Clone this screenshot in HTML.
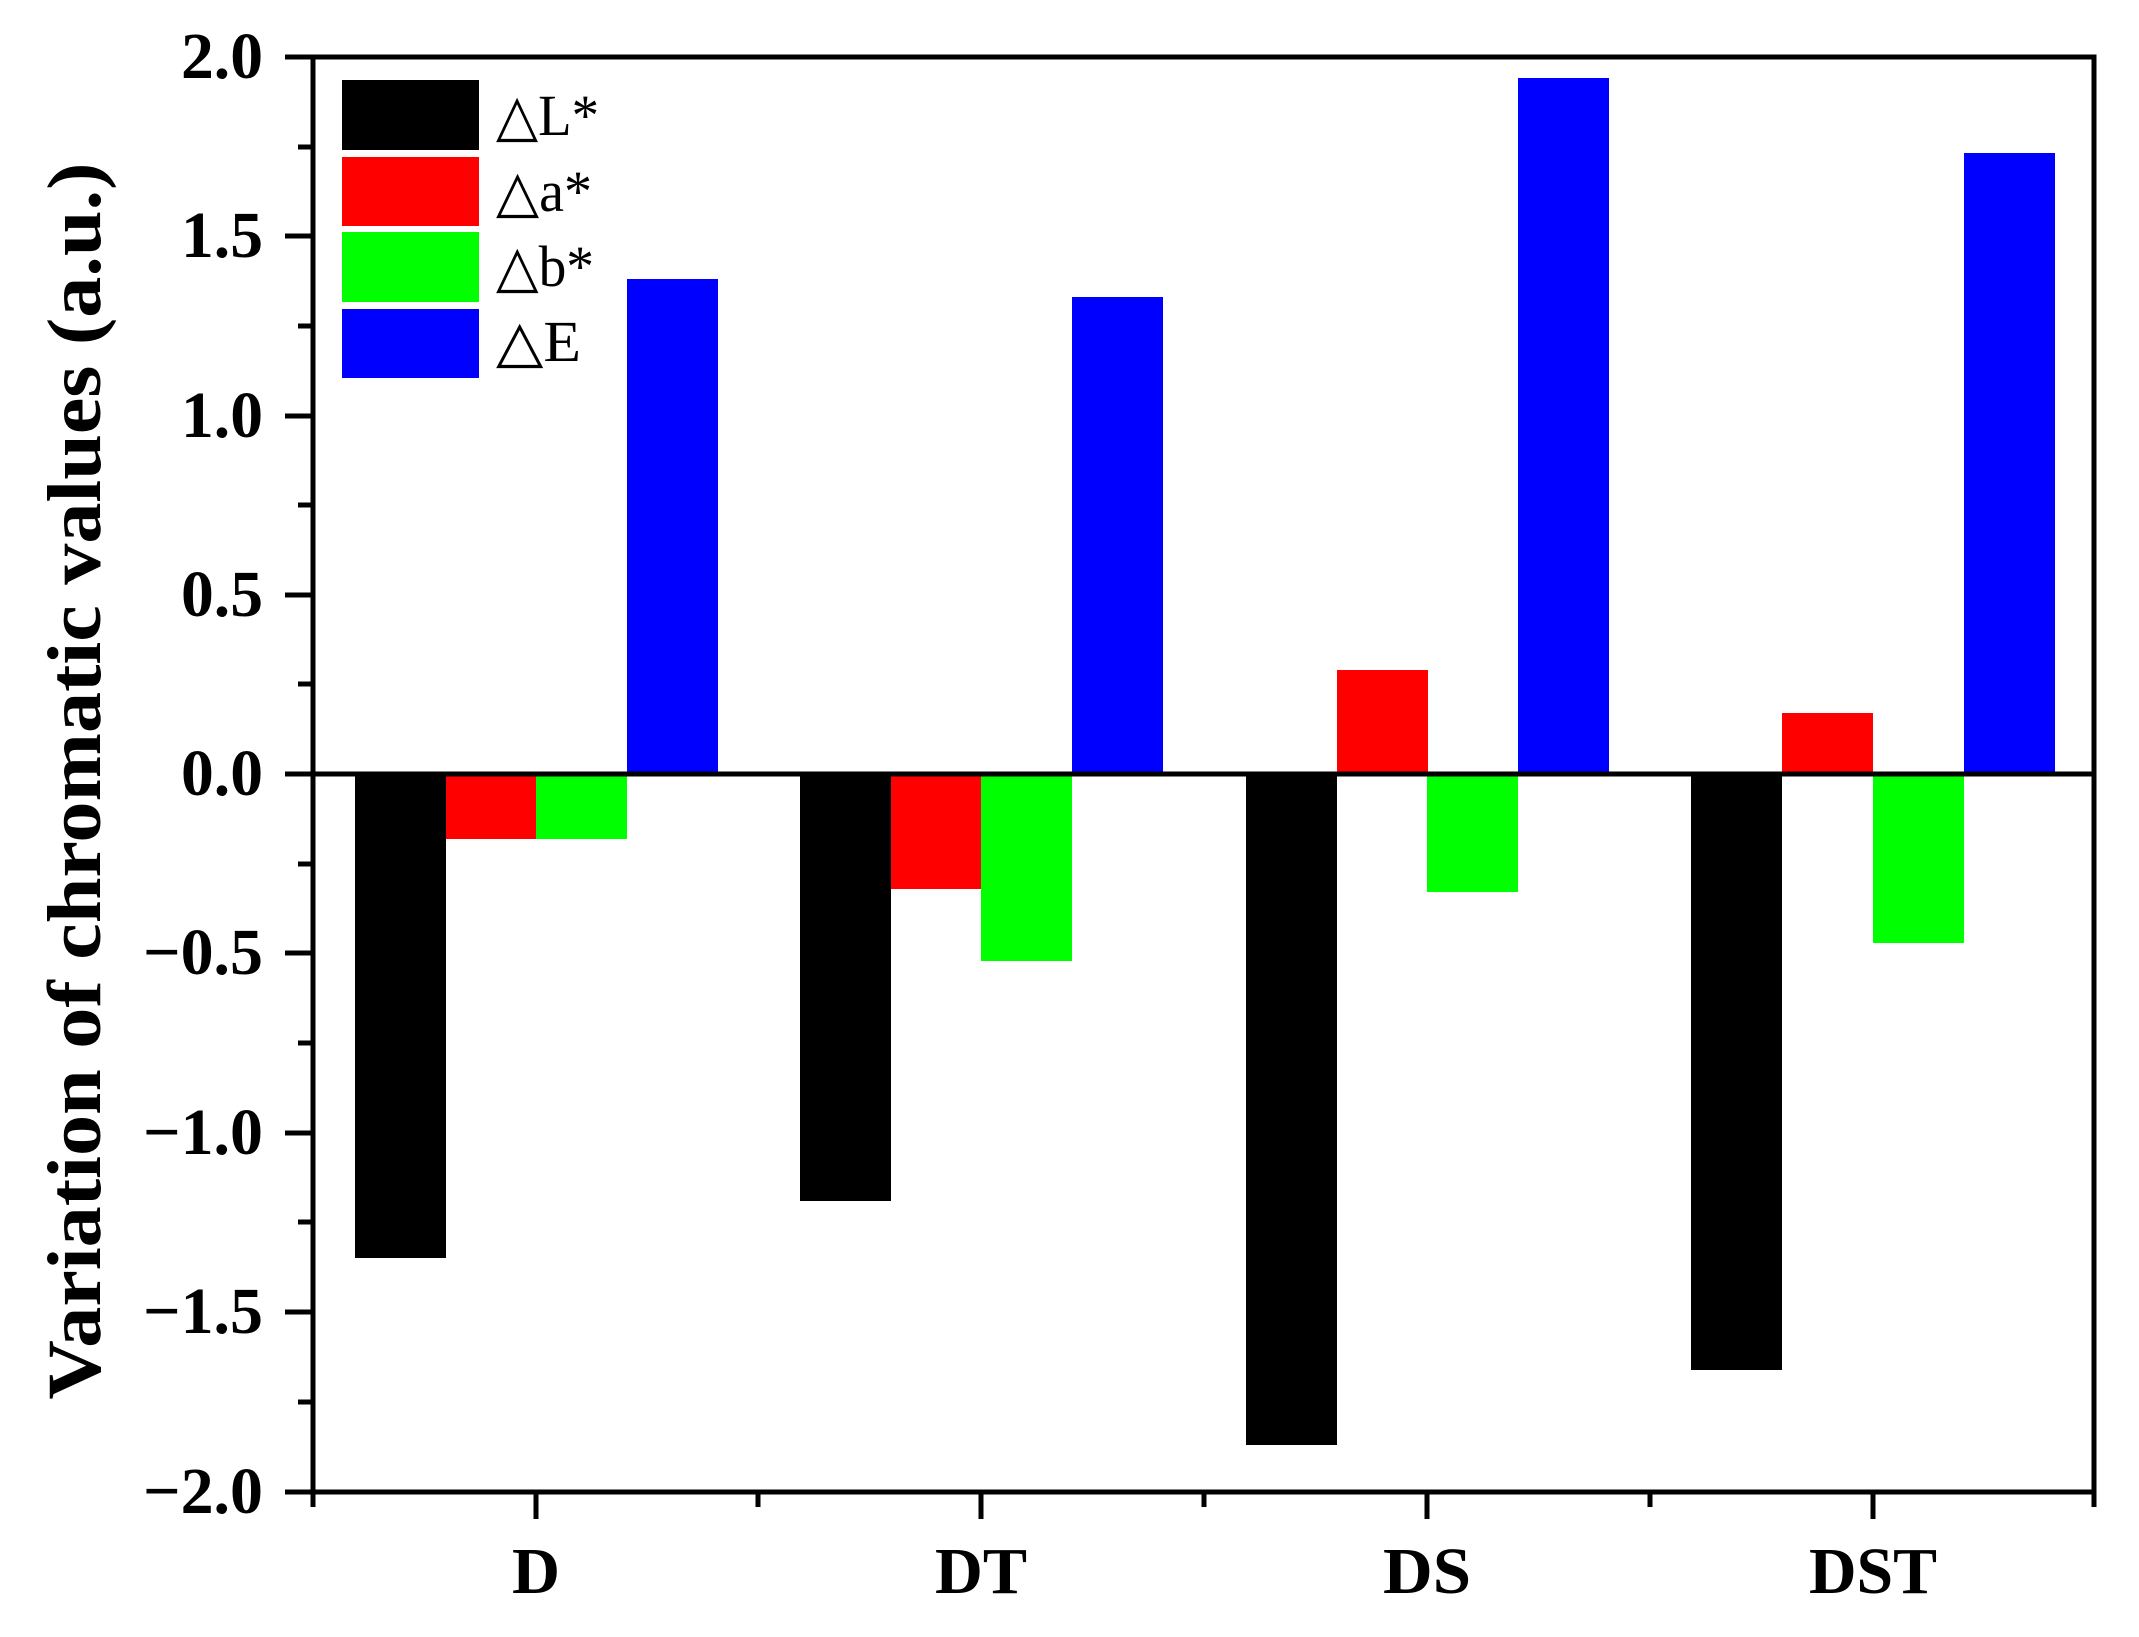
<!DOCTYPE html>
<html><head><meta charset="utf-8"><style>html,body{margin:0;padding:0;background:#fff}svg{display:block}svg text{font-family:"Liberation Serif","Times New Roman",serif}</style></head>
<body>
<svg width="2139" height="1637" viewBox="0 0 2139 1637" xmlns="http://www.w3.org/2000/svg">
<rect width="2139" height="1637" fill="#fff"/>
<g>
<rect x="355" y="774" width="91" height="484" fill="#000"/>
<rect x="446" y="774" width="91" height="65" fill="#f00"/>
<rect x="536" y="774" width="91" height="65" fill="#0f0"/>
<rect x="627" y="279" width="91" height="495" fill="#00f"/>
<rect x="800" y="774" width="91" height="427" fill="#000"/>
<rect x="891" y="774" width="91" height="115" fill="#f00"/>
<rect x="981" y="774" width="91" height="187" fill="#0f0"/>
<rect x="1072" y="297" width="91" height="477" fill="#00f"/>
<rect x="1246" y="774" width="91" height="671" fill="#000"/>
<rect x="1337" y="670" width="91" height="104" fill="#f00"/>
<rect x="1427" y="774" width="91" height="118" fill="#0f0"/>
<rect x="1518" y="78" width="91" height="696" fill="#00f"/>
<rect x="1691" y="774" width="91" height="596" fill="#000"/>
<rect x="1782" y="713" width="91" height="61" fill="#f00"/>
<rect x="1873" y="774" width="91" height="169" fill="#0f0"/>
<rect x="1964" y="153" width="91" height="621" fill="#00f"/>
</g>
<line x1="313" y1="774" x2="2094" y2="774" stroke="#000" stroke-width="5"/>
<rect x="313" y="57" width="1781" height="1435" fill="none" stroke="#000" stroke-width="5"/>
<g stroke="#000" stroke-width="5">
<line x1="285" y1="57" x2="313" y2="57"/><line x1="298" y1="147" x2="313" y2="147"/>
<line x1="285" y1="236" x2="313" y2="236"/><line x1="298" y1="326" x2="313" y2="326"/>
<line x1="285" y1="416" x2="313" y2="416"/><line x1="298" y1="505" x2="313" y2="505"/>
<line x1="285" y1="595" x2="313" y2="595"/><line x1="298" y1="684" x2="313" y2="684"/>
<line x1="285" y1="774" x2="313" y2="774"/><line x1="298" y1="864" x2="313" y2="864"/>
<line x1="285" y1="953" x2="313" y2="953"/><line x1="298" y1="1043" x2="313" y2="1043"/>
<line x1="285" y1="1133" x2="313" y2="1133"/><line x1="298" y1="1222" x2="313" y2="1222"/>
<line x1="285" y1="1312" x2="313" y2="1312"/><line x1="298" y1="1402" x2="313" y2="1402"/>
<line x1="285" y1="1492" x2="313" y2="1492"/>
<line x1="313" y1="1492" x2="313" y2="1507"/>
<line x1="536" y1="1492" x2="536" y2="1519"/><line x1="758" y1="1492" x2="758" y2="1507"/>
<line x1="981" y1="1492" x2="981" y2="1519"/><line x1="1204" y1="1492" x2="1204" y2="1507"/>
<line x1="1427" y1="1492" x2="1427" y2="1519"/><line x1="1650" y1="1492" x2="1650" y2="1507"/>
<line x1="1873" y1="1492" x2="1873" y2="1519"/><line x1="2094" y1="1492" x2="2094" y2="1507"/>
</g>
<g font-size="66" font-weight="bold" fill="#000" lengthAdjust="spacingAndGlyphs">
<text x="181" y="78" textLength="82" lengthAdjust="spacingAndGlyphs">2.0</text>
<text x="181" y="257" textLength="82" lengthAdjust="spacingAndGlyphs">1.5</text>
<text x="181" y="437" textLength="82" lengthAdjust="spacingAndGlyphs">1.0</text>
<text x="181" y="616" textLength="82" lengthAdjust="spacingAndGlyphs">0.5</text>
<text x="181" y="795" textLength="82" lengthAdjust="spacingAndGlyphs">0.0</text>
<text x="143" y="974" textLength="120" lengthAdjust="spacingAndGlyphs">−0.5</text>
<text x="143" y="1154" textLength="120" lengthAdjust="spacingAndGlyphs">−1.0</text>
<text x="143" y="1333" textLength="120" lengthAdjust="spacingAndGlyphs">−1.5</text>
<text x="143" y="1513" textLength="120" lengthAdjust="spacingAndGlyphs">−2.0</text>
</g>
<g font-size="66" font-weight="bold" fill="#000">
<text x="512" y="1593" textLength="48" lengthAdjust="spacingAndGlyphs">D</text>
<text x="935" y="1593" textLength="92" lengthAdjust="spacingAndGlyphs">DT</text>
<text x="1383" y="1593" textLength="88" lengthAdjust="spacingAndGlyphs">DS</text>
<text x="1809" y="1593" textLength="128" lengthAdjust="spacingAndGlyphs">DST</text>
</g>
<text transform="translate(100,781) rotate(-90)" font-size="76" font-weight="bold" text-anchor="middle" textLength="1237" lengthAdjust="spacingAndGlyphs">Variation of chromatic values (a.u.)</text>
<rect x="342" y="80" width="137" height="70" fill="#000"/>
<rect x="342" y="157" width="137" height="69" fill="#f00"/>
<rect x="342" y="232" width="137" height="70" fill="#0f0"/>
<rect x="342" y="309" width="137" height="69" fill="#00f"/>
<g font-size="58" fill="#000">
<text x="496" y="135" textLength="103" lengthAdjust="spacingAndGlyphs">△L*</text>
<text x="496" y="211" textLength="96" lengthAdjust="spacingAndGlyphs">△a*</text>
<text x="496" y="286" textLength="98" lengthAdjust="spacingAndGlyphs">△b*</text>
<text x="496" y="361" textLength="85" lengthAdjust="spacingAndGlyphs">△E</text>
</g>
</svg>
</body></html>
